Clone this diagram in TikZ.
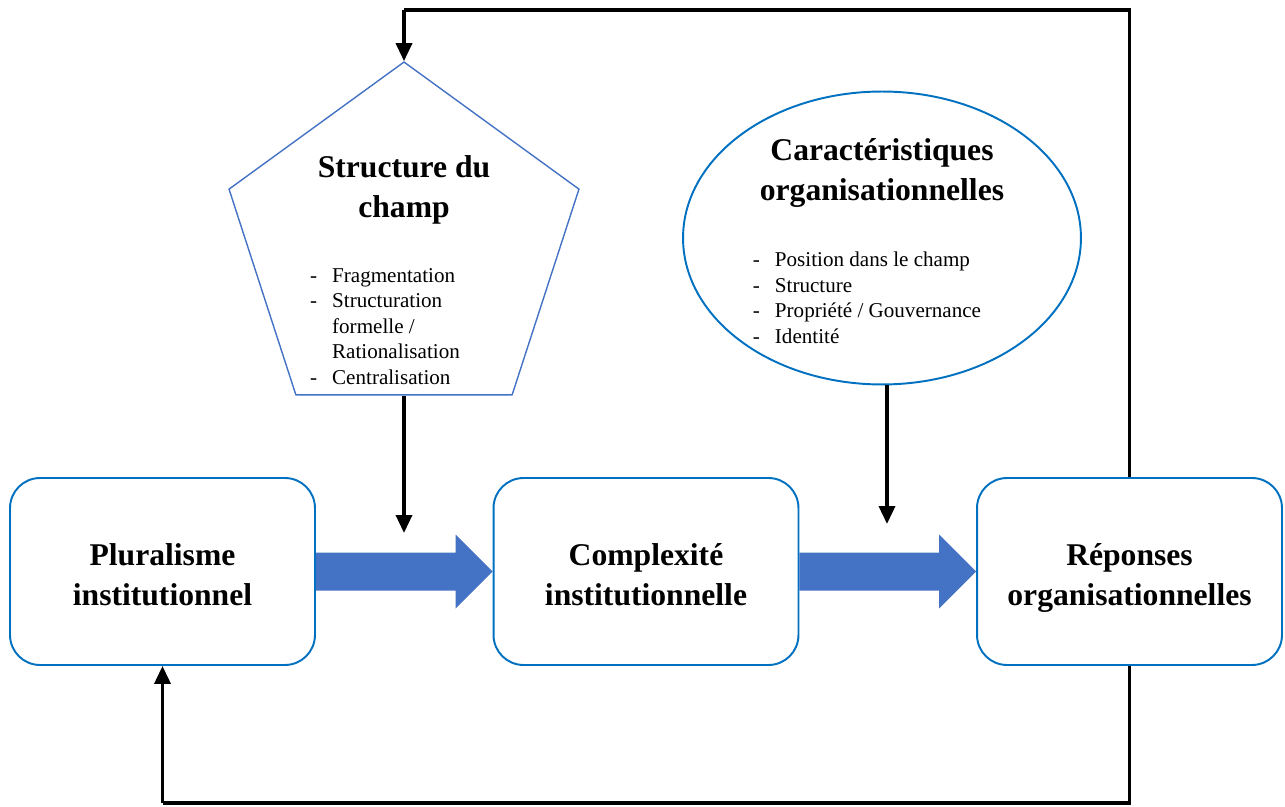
\documentclass[tikz,border=0pt]{standalone}
\usepackage{fontspec}
\setmainfont{Liberation Serif}
\usetikzlibrary{positioning,calc,shapes.geometric,arrows.meta}

\definecolor{bordbleu}{HTML}{0070C0}
\definecolor{pentbleu}{HTML}{4472C4}

\tikzset{
  boite/.style={draw=bordbleu, line width=1.1pt, rounded corners=0.6cm,
    minimum width=6.1cm, minimum height=3.74cm, align=center,
    font=\bfseries\fontsize{18}{22.8}\selectfont},
  titre/.style={align=center, inner sep=0, font=\bfseries\fontsize{18}{22.8}\selectfont},
  liste/.style={inner sep=0, font=\fontsize{12}{14.5}\selectfont},
  lien/.style={line width=2pt},
  fleche/.style={line width=2pt, -{Triangle[length=0.36cm,width=0.32cm]}},
  bloc/.style={fill=pentbleu}
}

\begin{document}
\begin{tikzpicture}[x=0.02cm, y=-0.02cm]
    \useasboundingbox (0,0) rectangle (1285,807);

    % les trois boites
    \node[boite] (plu) at (162.5,571.5) {\rule{0pt}{22.8pt}Pluralisme\\\strut institutionnel};
    \node[boite] (com) at (646,571.5) {\rule{0pt}{22.8pt}Complexit\'e\\\strut institutionnelle};
    \node[boite] (rep) at (1129.5,571.5) {\rule{0pt}{22.8pt}R\'eponses\\\strut organisationnelles};

    % structure du champ
    \node[draw=pentbleu, line width=0.8pt, regular polygon, regular polygon sides=5,
      minimum size=7.36cm, inner sep=0] (champ) at (404,246) {};
    \node[titre] (tchamp) at (404,190) {Structure du\\champ};
    \node[liste] (lchamp) at (385,328) {\begin{tabular}{@{}l@{\hspace{0.3cm}}l@{}}
      - & Fragmentation\\
      - & Structuration\\
        & formelle /\\
        & Rationalisation\\
      - & Centralisation
    \end{tabular}};

    % caracteristiques organisationnelles
    \node[draw=bordbleu, line width=1.1pt, ellipse, minimum width=7.96cm,
      minimum height=5.86cm, inner sep=0] (carac) at (882,238) {};
    \node[titre] (tcarac) at (882,173) {Caract\'eristiques\\organisationnelles};
    \node[liste] (lcarac) at (867,300) {\begin{tabular}{@{}l@{\hspace{0.3cm}}l@{}}
      - & Position dans le champ\\
      - & Structure\\
      - & Propri\'et\'e / Gouvernance\\
      - & Identit\'e
    \end{tabular}};

    % fleches pleines
    \fill[bloc] ($(plu.east)+(0,-19)$) -- ($(com.west)+(-37,-19)$) -- ($(com.west)+(-37,-37)$)
      -- (com.west) -- ($(com.west)+(-37,37)$) -- ($(com.west)+(-37,19)$)
      -- ($(plu.east)+(0,19)$) -- cycle;
    \fill[bloc] ($(com.east)+(0,-19)$) -- ($(rep.west)+(-37,-19)$) -- ($(rep.west)+(-37,-37)$)
      -- (rep.west) -- ($(rep.west)+(-37,37)$) -- ($(rep.west)+(-37,19)$)
      -- ($(com.east)+(0,19)$) -- cycle;

    % influences
    \coordinate (m1) at (404,533);
    \coordinate (m2) at (887,524);
    \draw[fleche] (champ.south) -- (m1);
    \draw[fleche] (carac.south -| m2) -- (m2);

    % boucles de retour
    \coordinate (haut) at (0,10);
    \coordinate (bas) at (0,803);
    \draw[lien] (rep.north) |- (haut -| champ.corner 1);
    \draw[fleche] (haut -| champ.corner 1) -- (champ.corner 1);
    \draw[lien] (rep.south) |- (bas -| plu.south);
    \draw[fleche] (bas -| plu.south) -- (plu.south);
\end{tikzpicture}
\end{document}
